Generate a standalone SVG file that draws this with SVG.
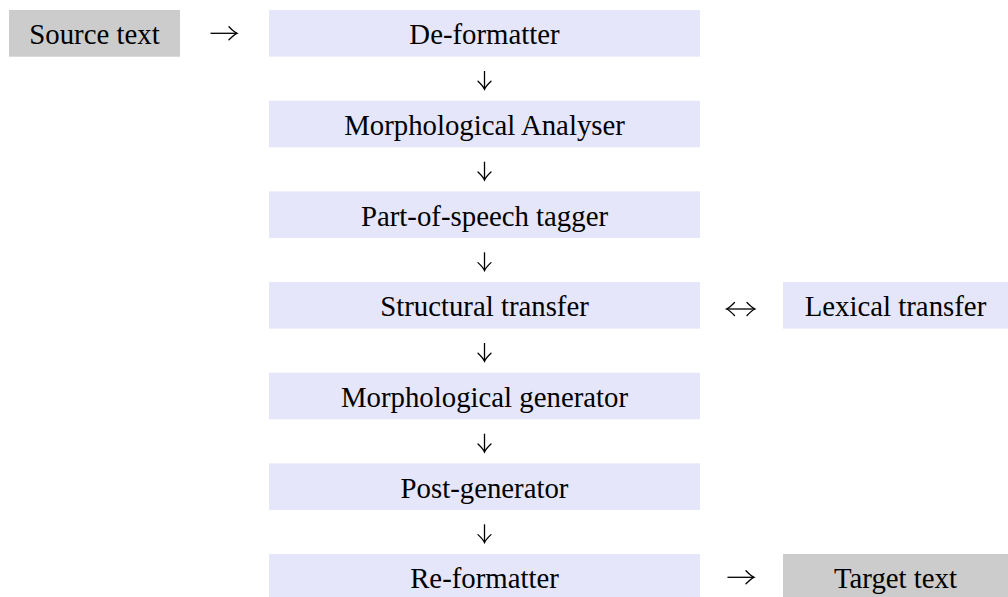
<svg xmlns="http://www.w3.org/2000/svg" width="1008" height="597" viewBox="0 0 1008 597">
<defs>
<marker id="head" markerUnits="userSpaceOnUse" markerWidth="20" markerHeight="20" viewBox="-10 -10 20 20" refX="0" refY="0" orient="auto-start-reverse" overflow="visible">
<path d="M-8,-6.5 Q-3,-1.2 0,0 Q-3,1.2 -8,6.5" fill="none" stroke="#000" stroke-width="1.3" stroke-linecap="round"/>
</marker>
</defs>
<style>
.box{fill:#e6e6fa}
.io{fill:#cccccc}
text{font-family:"Liberation Serif","Times New Roman",serif;font-size:28.8px;fill:#000;text-anchor:middle}
.arr{fill:none;stroke:#000;stroke-width:1.3;marker-end:url(#head)}
.both{marker-start:url(#head)}
</style>
<rect width="1008" height="597" fill="#ffffff"/>
<g id="source"><rect class="io" x="9" y="10" width="171" height="46.7"/><text x="94.5" y="44.3">Source text</text></g>
<g id="deformatter"><rect class="box" x="269" y="10" width="431" height="46.7"/><text x="484.5" y="44.3">De-formatter</text></g>
<g id="analyser"><rect class="box" x="269" y="100.67" width="431" height="46.7"/><text x="484.5" y="134.97">Morphological Analyser</text></g>
<g id="tagger"><rect class="box" x="269" y="191.33" width="431" height="46.7"/><text x="484.5" y="225.63">Part-of-speech tagger</text></g>
<g id="structural"><rect class="box" x="269" y="282" width="431" height="46.7"/><text x="484.5" y="316.3">Structural transfer</text></g>
<g id="lexical"><rect class="box" x="783" y="282" width="225" height="46.7"/><text x="895.5" y="316.3">Lexical transfer</text></g>
<g id="generator"><rect class="box" x="269" y="372.67" width="431" height="46.7"/><text x="484.5" y="406.97">Morphological generator</text></g>
<g id="postgen"><rect class="box" x="269" y="463.33" width="431" height="46.7"/><text x="484.5" y="497.63">Post-generator</text></g>
<g id="reformatter"><rect class="box" x="269" y="554" width="431" height="46.7"/><text x="484.5" y="588.3">Re-formatter</text></g>
<g id="target"><rect class="io" x="783" y="554" width="225" height="46.7"/><text x="895.5" y="588.3">Target text</text></g>
<g id="connectors">
<path class="arr" d="M210.5,33.3 H237"/>
<path class="arr" d="M484.5,71 V89.3"/>
<path class="arr" d="M484.5,161.7 V180"/>
<path class="arr" d="M484.5,252.3 V270.6"/>
<path class="arr both" d="M726.5,309 H755"/>
<path class="arr" d="M484.5,343 V361.3"/>
<path class="arr" d="M484.5,433.7 V452"/>
<path class="arr" d="M484.5,524.3 V542.6"/>
<path class="arr" d="M727.5,577.3 H754"/>
</g>
</svg>
